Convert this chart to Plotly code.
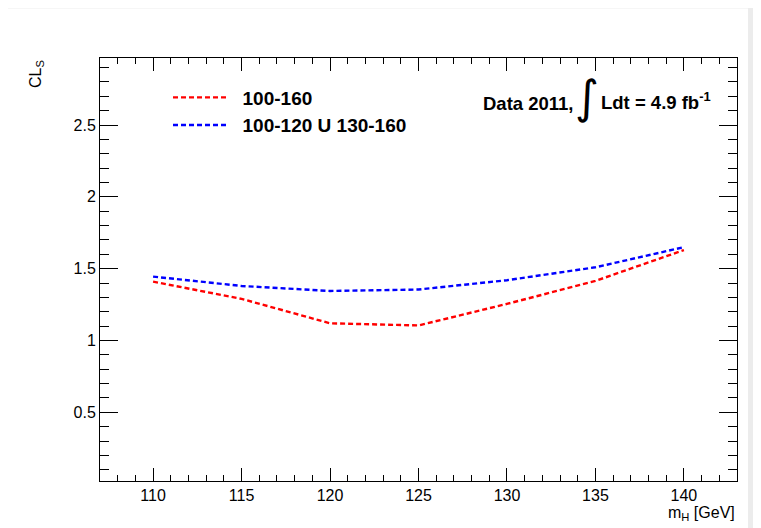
import plotly.graph_objects as go

mass = [110, 115, 120, 125, 130, 135, 140]
cls_full = [1.41, 1.29, 1.12, 1.105, 1.255, 1.415, 1.63]
cls_split = [1.445, 1.38, 1.345, 1.355, 1.42, 1.51, 1.65]
series_names = ["100-160", "100-120 U 130-160"]
series_colors = ["#ff0000", "#0000ff"]

x_ticks = [110, 115, 120, 125, 130, 135, 140]
y_ticks = [0.5, 1, 1.5, 2, 2.5]
y_tick_labels = ["0.5", "1", "1.5", "2", "2.5"]

FONT = "Liberation Sans, Arial, Helvetica, sans-serif"

# figure geometry (figure sits at an 8px page offset)
W, H = 753, 520
L, R, T, B = 92, 24, 49.5, 47
PW, PH = W - L - R, H - T - B


def px(xf):
    return (xf - L) / PW


def py(yf):
    return 1 - (yf - T) / PH


fig = go.Figure()
for ys, name, col in zip([cls_full, cls_split], series_names, series_colors):
    fig.add_trace(go.Scatter(
        x=mass, y=ys, mode="lines", name="\u00a0\u00a0" + name,
        line=dict(color=col, width=2.4, dash="5px,3px"),
    ))

axis_common = dict(
    showgrid=False, zeroline=False, showline=True, linecolor="#000000", linewidth=1,
    mirror="allticks", ticks="inside", tickcolor="#000000", tickwidth=1,
    tickfont=dict(family=FONT, size=16, color="#000000"),
)

fig.update_xaxes(
    range=[107, 143], tickvals=x_ticks, ticklen=13, ticklabelstandoff=0,
    minor=dict(dtick=1, ticks="inside", ticklen=6, tickcolor="#000000", tickwidth=1),
    **axis_common,
)
fig.update_yaxes(
    range=[0.022, 2.967], tickvals=y_ticks, ticktext=y_tick_labels, ticklen=18,
    minor=dict(dtick=0.1, ticks="inside", ticklen=9, tickcolor="#000000", tickwidth=1),
    **axis_common,
)

fig.add_shape(type="rect", xref="paper", yref="paper", layer="below",
              x0=px(0), x1=px(740), y0=py(H), y1=py(0),
              fillcolor="#ffffff", line=dict(width=0))

fig.add_annotation(xref="paper", yref="paper", x=1, y=py(494), xanchor="right", yanchor="top",
                   text="m<sub>H</sub> [GeV]", showarrow=False,
                   font=dict(family=FONT, size=16, color="#000000"))
fig.add_annotation(xref="paper", yref="paper", x=px(28), y=1, xanchor="center", yanchor="top",
                   text="CL<sub>S</sub>", textangle=-90, showarrow=False,
                   font=dict(family=FONT, size=16, color="#000000"))

# luminosity label
fig.add_annotation(xref="paper", yref="paper", x=px(473), y=py(95),
                   xanchor="left", yanchor="middle", text="<b>Data 2011,</b>", showarrow=False,
                   font=dict(family=FONT, size=18.5, color="#000000"))
fig.add_annotation(xref="paper", yref="paper", x=px(579), y=py(89),
                   xanchor="center", yanchor="middle", text="\u222b", showarrow=False,
                   font=dict(family="DejaVu Sans, sans-serif", size=46, color="#000000"))
fig.add_annotation(xref="paper", yref="paper", x=px(591), y=py(93),
                   xanchor="left", yanchor="middle", text="<b>Ldt = 4.9 fb<sup>-1</sup></b>", showarrow=False,
                   font=dict(family=FONT, size=18.5, color="#000000"))

fig.update_layout(
    width=W, height=H,
    margin=dict(l=L, r=R, t=T, b=B, pad=0),
    paper_bgcolor="#ececec", plot_bgcolor="#ffffff",
    showlegend=True,
    legend=dict(x=px(160), y=py(70), xanchor="left", yanchor="top",
                bgcolor="rgba(0,0,0,0)", borderwidth=0, itemwidth=54,
                font=dict(family=FONT, size=19, color="#000000", weight="bold"),
                tracegroupgap=0),
)

fig.write_html("out.html")
